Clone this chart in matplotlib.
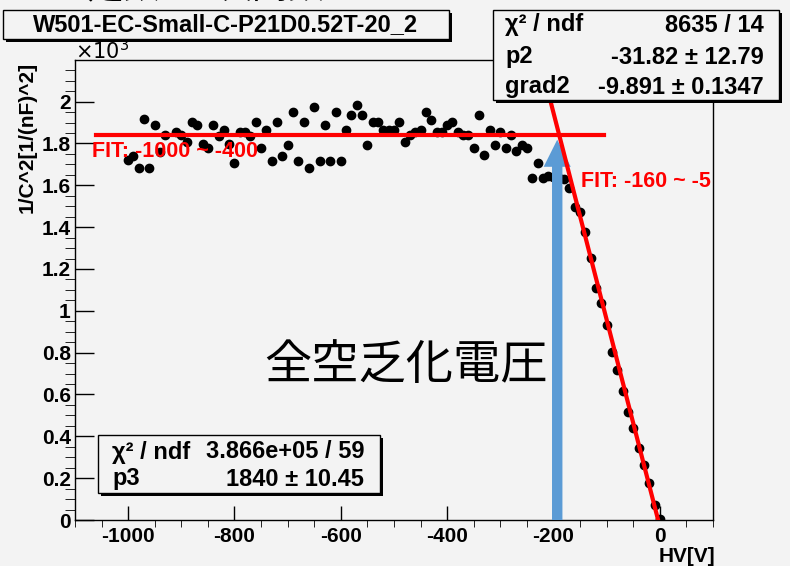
import matplotlib
matplotlib.use("Agg")
from matplotlib import pyplot
from matplotlib.patches import Rectangle
from matplotlib.ticker import MultipleLocator, FuncFormatter

# measured points: HV [V] and 1/C^2 [1/(nF)^2]
hv = [
    -1000, -990, -980, -970, -960, -950, -940, -930, -910, -900,
    -890, -880, -870, -860, -850, -840, -830, -820, -810, -800,
    -790, -780, -770, -760, -750, -740, -730, -720, -710, -700,
    -690, -680, -670, -660, -650, -640, -630, -620, -610, -600,
    -590, -580, -570, -560, -550, -540, -530, -520, -510, -500,
    -490, -480, -470, -460, -450, -440, -430, -420, -410, -400,
    -390, -380, -370, -360, -350, -340, -330, -320, -310, -300,
    -290, -280, -270, -260, -250, -240, -230, -220, -210, -200,
    -190, -180, -170, -160, -150, -140, -130, -120, -110, -100,
    -90, -80, -70, -60, -50, -40, -30, -20, -10, 0,
]
inv_c2 = [
    1720, 1740, 1685, 1915, 1685, 1890, 1760, 1840, 1855, 1842,
    1805, 1905, 1890, 1798, 1780, 1890, 1838, 1866, 1798, 1708,
    1856, 1856, 1838, 1905, 1780, 1866, 1718, 1905, 1742, 1795,
    1952, 1718, 1905, 1685, 1976, 1718, 1890, 1718, 1952, 1718,
    1866, 1938, 1986, 1938, 1795, 1905, 1905, 1866, 1866, 1866,
    1905, 1805, 1842, 1856, 1866, 1952, 1914, 1856, 1856, 1890,
    1904, 1856, 1842, 1842, 1780, 1938, 1747, 1866, 1794, 1856,
    1780, 1842, 1766, 1794, 1780, 1636, 1708, 1636, 1645, 1640,
    1635, 1630, 1589, 1498, 1474, 1378, 1254, 1110, 1038, 933,
    804, 718, 617, 517, 440, 344, 263, 177, 72, 5,
]

# fit results shown in the stat boxes
p3 = 1840.0
p2 = -31.82
grad2 = -9.891
flat_range = [-1060, -105]
slope_range = [-225, -p2 / grad2]
depletion_hv = -193
depletion_tip = 1818

BG = "#f3f3f3"
W, H = 790, 566


def fx(px):
    return px / W


def fy(py):
    return 1 - py / H


def draw_pave(fig, left, top, right, bottom):
    shadow = Rectangle((fx(left + 3), fy(bottom + 3)), (right - left) / W, (bottom - top) / H,
                       transform=fig.transFigure, facecolor="black", edgecolor="none", zorder=10)
    box = Rectangle((fx(left), fy(bottom)), (right - left) / W, (bottom - top) / H,
                    transform=fig.transFigure, facecolor=BG, edgecolor="black", linewidth=1.0, zorder=11)
    fig.patches.extend([shadow, box])


def stat_rows(fig, rows, x_left, x_right, size=17):
    for y, name, value in rows:
        fig.text(fx(x_left), fy(y), name, ha="left", va="center", fontsize=size, fontweight="bold", zorder=12)
        fig.text(fx(x_right), fy(y), value, ha="right", va="center", fontsize=size, fontweight="bold", zorder=12)


pyplot.rcParams["font.family"] = ["Liberation Sans", "DejaVu Sans"]

figure = pyplot.figure(figsize=(W / 100, H / 100), dpi=100, facecolor=BG)
axis = figure.add_axes([fx(75), fy(520), 638 / W, 460 / H])
axis.set_facecolor(BG)

axis.plot(hv, inv_c2, "o", color="black", markersize=6, zorder=3)
axis.plot(flat_range, [p3, p3], color="red", linewidth=3, zorder=5)
axis.plot(slope_range, [p2 + grad2 * v for v in slope_range], color="red", linewidth=3, zorder=5)

axis.annotate("", xy=(depletion_hv, depletion_tip), xytext=(depletion_hv, 0),
              arrowprops=dict(width=7.5, headwidth=19.5, headlength=19.5, shrink=0,
                              facecolor="#5b9bd5", edgecolor="none"), zorder=4)

axis.set_xlim(-1100, 100)
axis.set_ylim(0, 2199)
axis.xaxis.set_major_locator(MultipleLocator(200))
axis.xaxis.set_minor_locator(MultipleLocator(50))
axis.yaxis.set_major_locator(MultipleLocator(200))
axis.yaxis.set_minor_locator(MultipleLocator(50))
axis.xaxis.set_major_formatter(FuncFormatter(lambda v, p: f"{v:g}"))
axis.yaxis.set_major_formatter(FuncFormatter(lambda v, p: f"{v / 1000:g}"))
axis.tick_params(direction="in", labelsize=15, width=1.0, colors="black")
axis.tick_params(axis="x", which="major", length=10, pad=5)
axis.tick_params(axis="x", which="minor", length=5)
axis.tick_params(axis="y", which="major", length=14, pad=3)
axis.tick_params(axis="y", which="minor", length=7)
for label in axis.get_xticklabels() + axis.get_yticklabels():
    label.set_fontweight("bold")
for spine in axis.spines.values():
    spine.set_linewidth(1.0)

axis.text(-1068, 1760, "FIT: -1000 ~ -400", color="red", fontsize=15.5, fontweight="bold",
          ha="left", va="center", zorder=6)
axis.text(-148, 1620, "FIT: -160 ~ -5", color="red", fontsize=15.5, fontweight="bold",
          ha="left", va="center", zorder=6)
axis.text(-478, 735, "全空乏化電圧", fontsize=34, ha="center", va="center",
          family=["Noto Sans CJK JP", "DejaVu Sans"], zorder=6)

figure.text(fx(75), fy(59), r"$\times10^{3}$", fontsize=15, ha="left", va="baseline")
figure.text(fx(27), fy(62), "1/C^2[1/(nF)^2]", rotation=90, ha="center", va="top",
            fontsize=15, fontweight="bold")
figure.text(fx(715), fy(556), "HV[V]", ha="right", va="center", fontsize=15, fontweight="bold")
figure.text(fx(43), fy(-2), "fit:定数と1次関数", ha="left", va="baseline", fontsize=26,
            family=["Noto Sans CJK JP", "DejaVu Sans"])

draw_pave(figure, 3, 10, 449, 39)
figure.text(fx(226), fy(24.5), "W501-EC-Small-C-P21D0.52T-20_2", ha="center", va="center",
            fontsize=17, fontweight="bold", zorder=12)

draw_pave(figure, 493, 10, 779, 100)
stat_rows(figure, [(25, "χ² / ndf", "8635 / 14"),
                   (57, "p2", "-31.82 ± 12.79"),
                   (87, "grad2", "-9.891 ± 0.1347")], 505, 764)

draw_pave(figure, 98, 435, 380, 493)
stat_rows(figure, [(452, "χ² / ndf", "3.866e+05 / 59"),
                   (479, "p3", "1840 ± 10.45")], 112, 364)

figure.savefig("out.png", dpi=100, facecolor=BG)
